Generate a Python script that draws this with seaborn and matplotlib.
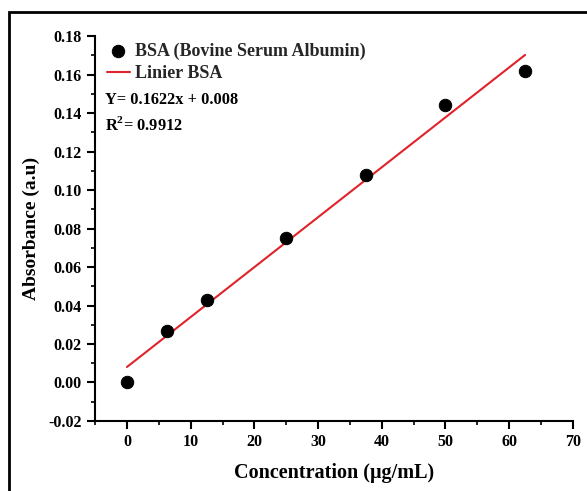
import numpy as np
import pandas as pd
import matplotlib
matplotlib.use("Agg")
import matplotlib.pyplot as plt
import seaborn as sns
from matplotlib.patches import Rectangle
from matplotlib.ticker import MultipleLocator

# BSA standard curve data
concentration = [0, 6.25, 12.5, 25, 37.5, 50, 62.5]
absorbance = [0.000, 0.027, 0.043, 0.075, 0.108, 0.144, 0.162]
equation_text = "Y= 0.1622x + 0.008"
r2_text = "R$^2$= 0.9912"

sns.set_theme(style="ticks")
plt.rcParams['font.family'] = ['Liberation Serif', 'DejaVu Serif']
plt.rcParams['font.weight'] = 'bold'
plt.rcParams['mathtext.fontset'] = 'custom'
plt.rcParams['mathtext.rm'] = 'Liberation Serif:bold'

df = pd.DataFrame({'Concentration': concentration, 'Absorbance': absorbance})

fig = plt.figure(figsize=(5.87, 4.91), dpi=100)
ax = fig.add_axes([0.162, 0.1426, 0.814, 0.784])

# outer frame (cropped at right and bottom)
fig.patches.append(Rectangle((0.0153, -0.05), 1.2, 0.9756 + 0.05,
                             transform=fig.transFigure, fill=False,
                             edgecolor='black', linewidth=2))

# linear fit line
sns.regplot(data=df, x='Concentration', y='Absorbance', scatter=False, ci=None,
            line_kws={'linewidth': 1.5, 'color': '#e0232a'},
            label='Linier BSA', ax=ax)
sns.scatterplot(data=df, x='Concentration', y='Absorbance', color='black', s=80,
                edgecolor='black', label='BSA (Bovine Serum Albumin)', ax=ax, zorder=3)

ax.set_xlim(-5, 70)
ax.set_ylim(-0.02, 0.18)
ax.xaxis.set_major_locator(MultipleLocator(10))
ax.xaxis.set_minor_locator(MultipleLocator(5))
ax.yaxis.set_major_locator(MultipleLocator(0.02))
ax.yaxis.set_minor_locator(MultipleLocator(0.01))
ax.yaxis.set_major_formatter(matplotlib.ticker.FormatStrFormatter('%.2f'))

sns.despine(ax=ax)
for s in ['left', 'bottom']:
    ax.spines[s].set_linewidth(1.5)
    ax.spines[s].set_color('black')
ax.tick_params(which='major', direction='out', length=6, width=1.5, labelsize=11.5,
               color='black', labelcolor='black')
ax.tick_params(which='minor', direction='out', length=3, width=1.2, color='black')
for lbl in ax.get_xticklabels() + ax.get_yticklabels():
    lbl.set_fontweight('bold')

ax.set_xlabel('Concentration (μg/mL)', fontsize=14.5, fontweight='bold', labelpad=9,
              color='black')
ax.set_ylabel('Absorbance (a.u)', fontsize=14, fontweight='bold', labelpad=6,
              color='black')

handles, labels = ax.get_legend_handles_labels()
order = [labels.index('BSA (Bovine Serum Albumin)'), labels.index('Linier BSA')]
ax.legend([handles[i] for i in order], [labels[i] for i in order],
          loc='upper left', bbox_to_anchor=(-0.01, 1.025), frameon=False,
          prop={'family': 'Liberation Serif', 'weight': 'bold', 'size': 13},
          handlelength=1.3, handletextpad=0.25, labelspacing=0.3, markerscale=1.0)

ax.text(0.02, 0.834, equation_text, transform=ax.transAxes, fontsize=11.8,
        fontweight='bold', va='center', ha='left', color='black')
ax.text(0.02, 0.769, r2_text, transform=ax.transAxes, fontsize=11.8,
        fontweight='bold', va='center', ha='left', color='black')

fig.savefig('out.png', dpi=100)
